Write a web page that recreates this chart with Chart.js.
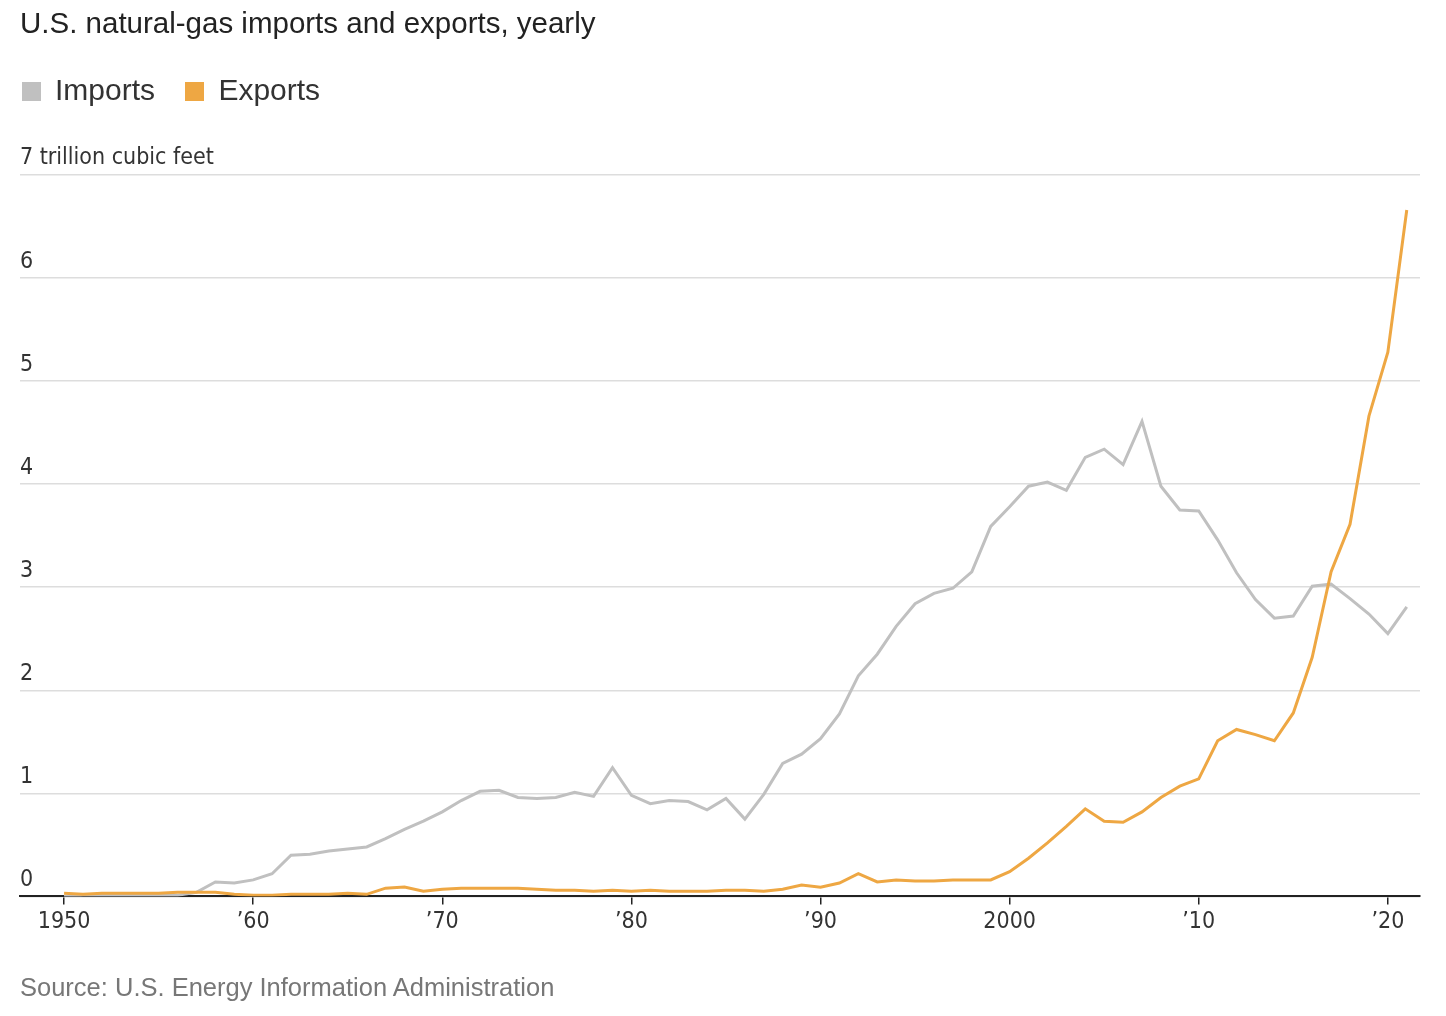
<!DOCTYPE html>
<html>
<head>
<meta charset="UTF-8">
<title>U.S. natural-gas imports and exports, yearly</title>
<script src="https://cdn.jsdelivr.net/npm/chart.js"></script>
<style>
  html, body { margin: 0; padding: 0; background: #fff; }
  body { width: 1446px; height: 1016px; position: relative; overflow: hidden; font-family: "Liberation Sans", Arial, sans-serif; }
  #wrap { position: absolute; left: 0; top: 0; width: 1446px; height: 1016px; }
  .title { position: absolute; left: 20px; top: 6px; font-size: 29.5px; color: #222; }
  .legend { position: absolute; left: 22px; top: 73px; font-size: 30px; color: #333; }
  .legend span.sw { display: inline-block; width: 19px; height: 19px; margin-right: 14px; vertical-align: -1px; }
  .legend span.item { margin-right: 22px; }
  .source { position: absolute; left: 20px; top: 973px; font-size: 25.5px; color: #777; }
</style>
</head>
<body>
<div id="wrap"><canvas id="chart" width="1446" height="1016"></canvas></div>
<div class="title">U.S. natural-gas imports and exports, yearly</div>
<div class="legend">
  <span class="item"><span class="sw" style="background:#c0c0c0"></span>Imports</span>
  <span class="item"><span class="sw" style="background:#eea743"></span>Exports</span>
</div>
<div class="source">Source: U.S. Energy Information Administration</div>
<script>
// 数据：1950-2021，单位：万亿立方英尺
const years = [];
for (let y = 1950; y <= 2021; y++) years.push(y);

const imports = [
  0.00, 0.01, 0.01, 0.01, 0.01, 0.01, 0.01, 0.04, 0.14, 0.13,
  0.16, 0.22, 0.40, 0.41, 0.44, 0.46, 0.48, 0.56, 0.65, 0.73,
  0.82, 0.93, 1.02, 1.03, 0.96, 0.95, 0.96, 1.01, 0.97, 1.25,
  0.98, 0.90, 0.93, 0.92, 0.84, 0.95, 0.75, 0.99, 1.29, 1.38,
  1.53, 1.77, 2.14, 2.35, 2.62, 2.84, 2.94, 2.99, 3.15, 3.59,
  3.78, 3.98, 4.02, 3.94, 4.26, 4.34, 4.19, 4.61, 3.98, 3.75,
  3.74, 3.46, 3.14, 2.88, 2.70, 2.72, 3.01, 3.03, 2.89, 2.74,
  2.55, 2.81
];

const exports = [
  0.03, 0.02, 0.03, 0.03, 0.03, 0.03, 0.04, 0.04, 0.04, 0.02,
  0.01, 0.01, 0.02, 0.02, 0.02, 0.03, 0.02, 0.08, 0.09, 0.05,
  0.07, 0.08, 0.08, 0.08, 0.08, 0.07, 0.06, 0.06, 0.05, 0.06,
  0.05, 0.06, 0.05, 0.05, 0.05, 0.06, 0.06, 0.05, 0.07, 0.11,
  0.09, 0.13, 0.22, 0.14, 0.16, 0.15, 0.15, 0.16, 0.16, 0.16,
  0.24, 0.37, 0.52, 0.68, 0.85, 0.73, 0.72, 0.82, 0.96, 1.07,
  1.14, 1.51, 1.62, 1.57, 1.51, 1.78, 2.32, 3.15, 3.61, 4.66,
  5.28, 6.66
];

const xTicks = [1950, 1960, 1970, 1980, 1990, 2000, 2010, 2020];
const yTicks = [0, 1, 2, 3, 4, 5, 6, 7];

function xLabel(v) {
  if (v === 1950 || v === 2000) return String(v);
  return '\u2019' + String(v).slice(2);
}

// 在网格线上方绘制 y 轴标签
const yLabels = {
  id: 'yLabels',
  afterDraw(chart) {
    const ctx = chart.ctx;
    const ys = chart.scales.y;
    ctx.save();
    ctx.font = '23px "Liberation Sans Narrow", "DejaVu Sans Condensed", sans-serif';
    ctx.fillStyle = '#333';
    ctx.textBaseline = 'bottom';
    ctx.textAlign = 'left';
    yTicks.forEach(v => {
      const txt = v === 7 ? '7 trillion cubic feet' : String(v);
      ctx.fillText(txt, chart.chartArea.left, ys.getPixelForValue(v) - 5);
    });
    ctx.restore();
  }
};

new Chart(document.getElementById('chart'), {
  type: 'line',
  data: {
    datasets: [
      { label: 'Exports', data: years.map((y, i) => ({ x: y, y: exports[i] })),
        borderColor: '#eea743', borderWidth: 3, pointRadius: 0, tension: 0 },
      { label: 'Imports', data: years.map((y, i) => ({ x: y, y: imports[i] })),
        borderColor: '#c0c0c0', borderWidth: 3, pointRadius: 0, tension: 0 }
    ]
  },
  options: {
    responsive: false,
    animation: false,
    devicePixelRatio: 1,
    layout: { padding: { left: 20, right: 26, top: 175, bottom: 76 } },
    plugins: { legend: { display: false }, tooltip: { enabled: false } },
    scales: {
      x: {
        type: 'linear',
        min: 1947.67,
        max: 2021.7,
        afterBuildTicks: s => { s.ticks = xTicks.map(v => ({ value: v })); },
        grid: { drawOnChartArea: false, drawTicks: true, tickLength: 8, color: '#222', lineWidth: 1.5 },
        border: { display: true, color: '#222', width: 2 },
        ticks: {
          padding: 4,
          color: '#333',
          font: { family: '"Liberation Sans Narrow", "DejaVu Sans Condensed", sans-serif', size: 23 },
          callback: v => xLabel(v),
          maxRotation: 0
        }
      },
      y: {
        min: 0,
        max: 7,
        afterBuildTicks: s => { s.ticks = yTicks.map(v => ({ value: v })); },
        afterFit: s => { s.width = 0; },
        ticks: { display: false },
        border: { display: false },
        grid: { color: '#dddddd', lineWidth: 1.5, drawTicks: false }
      }
    }
  },
  plugins: [yLabels]
});
</script>
</body>
</html>
